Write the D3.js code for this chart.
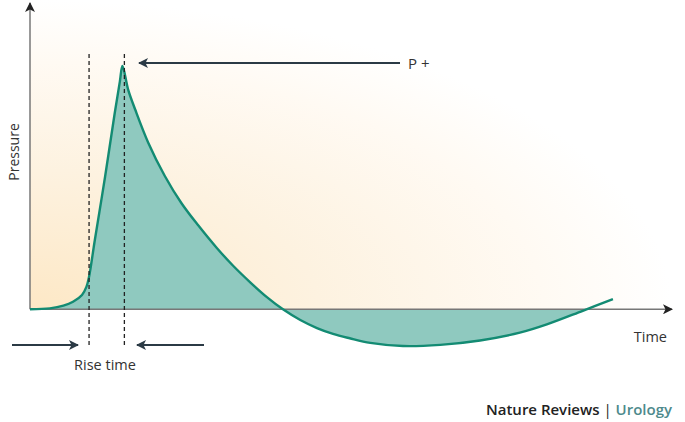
<!DOCTYPE html>
<html>
<head>
<meta charset="utf-8">
<script src="https://cdn.jsdelivr.net/npm/d3@7"></script>
<style>
  body { margin: 0; background: #fff; }
  svg { display: block; font-family: "Open Sans", Lato, sans-serif; }
</style>
</head>
<body>
<div id="chart"></div>
<script>
// pressure waveform, time 0-100 (arbitrary), pressure relative to peak = 100
var timeVals     = [0, 3.1, 5.2, 6.7, 8.1, 8.8, 9.2, 10.1, 11.7, 13.2, 14.0, 14.4, 15.3, 16.4, 18.4, 21.0, 23.6, 26.2, 29.1, 31.6, 34.3, 36.9, 39.4, 42.1, 44.7, 47.2, 49.8, 53.0, 58.1, 63.9, 70.1, 76.3, 80.5, 86.1, 90.8];
var pressureVals = [0, 0.4, 1.5, 3.1, 5.9, 9.3, 13.4, 28.5, 54.6, 80.7, 93.7, 100, 90.2, 82.0, 68.6, 54.8, 43.6, 34.5, 25.2, 18.0, 11.1, 5.0, 0, -4.4, -7.7, -10.1, -11.9, -13.8, -15.1, -14.6, -12.8, -9.6, -6.2, -0.6, 4.2];
var riseMarks = [9.2, 14.7];   // start of rise, peak
var zeroCross = 86.6;          // fill stops where curve crosses back over

var width = 685, height = 422;

var svg = d3.select("#chart").append("svg")
            .attr("width", width)
            .attr("height", height);

var x = d3.scaleLinear().domain([0, 100]).range([30, 672]);
var y = d3.scaleLinear().domain([0, 100]).range([309.3, 66]);

var defs = svg.append("defs");

var grad = defs.append("radialGradient")
               .attr("id", "bg")
               .attr("cx", 0).attr("cy", 1).attr("r", 1)
               .attr("fx", 0).attr("fy", 1);
grad.append("stop").attr("offset", "0%").attr("stop-color", "#fde8c6");
grad.append("stop").attr("offset", "45%").attr("stop-color", "#fdf2e0");
grad.append("stop").attr("offset", "80%").attr("stop-color", "#fffaf3");
grad.append("stop").attr("offset", "100%").attr("stop-color", "#ffffff");

defs.append("clipPath").attr("id", "fillClip")
    .append("rect")
    .attr("x", x(0)).attr("y", 0)
    .attr("width", x(zeroCross) - x(0))
    .attr("height", height);

var mk = function (id, color) {
  defs.append("marker")
      .attr("id", id)
      .attr("viewBox", "0 0 10 10")
      .attr("refX", 9).attr("refY", 5)
      .attr("markerUnits", "userSpaceOnUse")
      .attr("markerWidth", 11).attr("markerHeight", 10)
      .attr("orient", "auto")
    .append("path")
      .attr("d", "M0,0 L10,5 L0,10 L2.5,5 Z")
      .attr("fill", color);
};
mk("arrowAxis", "#222");
mk("arrowDark", "#2b3a45");

// warm background
svg.append("rect")
   .attr("x", x(0)).attr("y", 0)
   .attr("width", x(100) - x(0))
   .attr("height", y(0))
   .attr("fill", "url(#bg)");

var pts = timeVals.map(function (t, i) { return [t, pressureVals[i]]; });

var area = d3.area()
             .x(function (d) { return x(d[0]); })
             .y0(y(0))
             .y1(function (d) { return y(d[1]); })
             .curve(d3.curveCatmullRom.alpha(0.5));

var line = d3.line()
             .x(function (d) { return x(d[0]); })
             .y(function (d) { return y(d[1]); })
             .curve(d3.curveCatmullRom.alpha(0.5));

svg.append("path")
   .datum(pts)
   .attr("d", area)
   .attr("clip-path", "url(#fillClip)")
   .attr("fill", "#8fc9bf");

// axes
svg.append("line")
   .attr("x1", x(0)).attr("y1", y(0))
   .attr("x2", x(0)).attr("y2", 3)
   .attr("stroke", "#777").attr("stroke-width", 1.5)
   .attr("marker-end", "url(#arrowAxis)");

svg.append("line")
   .attr("x1", x(0)).attr("y1", y(0))
   .attr("x2", x(100)).attr("y2", y(0))
   .attr("stroke", "#777").attr("stroke-width", 1.5)
   .attr("marker-end", "url(#arrowAxis)");

svg.append("path")
   .datum(pts)
   .attr("d", line)
   .attr("fill", "none")
   .attr("stroke", "#138b73")
   .attr("stroke-width", 2.4)
   .attr("stroke-linejoin", "round");

// dashed markers for rise time
svg.selectAll(".dash")
   .data(riseMarks)
   .enter().append("line")
   .attr("class", "dash")
   .attr("x1", function (d) { return x(d); })
   .attr("x2", function (d) { return x(d); })
   .attr("y1", 54).attr("y2", 346)
   .attr("stroke", "#222")
   .attr("stroke-width", 1.3)
   .attr("stroke-dasharray", "4,3");

// P+ arrow
svg.append("line")
   .attr("x1", 400).attr("y1", 63)
   .attr("x2", 139).attr("y2", 63)
   .attr("stroke", "#2b3a45").attr("stroke-width", 2)
   .attr("marker-end", "url(#arrowDark)");

svg.append("text")
   .attr("x", 408).attr("y", 69)
   .text("P +")
   .attr("fill", "#333")
   .attr("font-size", "15px");

// rise time arrows
svg.append("line")
   .attr("x1", 12).attr("y1", 345)
   .attr("x2", 78).attr("y2", 345)
   .attr("stroke", "#2b3a45").attr("stroke-width", 2)
   .attr("marker-end", "url(#arrowDark)");

svg.append("line")
   .attr("x1", 204).attr("y1", 345)
   .attr("x2", 137).attr("y2", 345)
   .attr("stroke", "#2b3a45").attr("stroke-width", 2)
   .attr("marker-end", "url(#arrowDark)");

svg.append("text")
   .attr("x", 105).attr("y", 370)
   .attr("text-anchor", "middle")
   .text("Rise time")
   .attr("fill", "#333")
   .attr("font-size", "14.5px");

// axis titles
svg.append("text")
   .attr("transform", "translate(19,152) rotate(-90)")
   .attr("text-anchor", "middle")
   .text("Pressure")
   .attr("fill", "#333")
   .attr("font-size", "14px");

svg.append("text")
   .attr("x", 667).attr("y", 342)
   .attr("text-anchor", "end")
   .text("Time")
   .attr("fill", "#333")
   .attr("font-size", "14.5px");

// footer
var foot = svg.append("text")
              .attr("x", 672).attr("y", 415)
              .attr("text-anchor", "end")
              .attr("font-size", "15px");
foot.append("tspan").text("Nature Reviews").attr("fill", "#222").attr("font-weight", 600);
foot.append("tspan").text(" | ").attr("fill", "#222");
foot.append("tspan").text("Urology").attr("fill", "#4e8a8c").attr("font-weight", 600);
</script>
</body>
</html>
